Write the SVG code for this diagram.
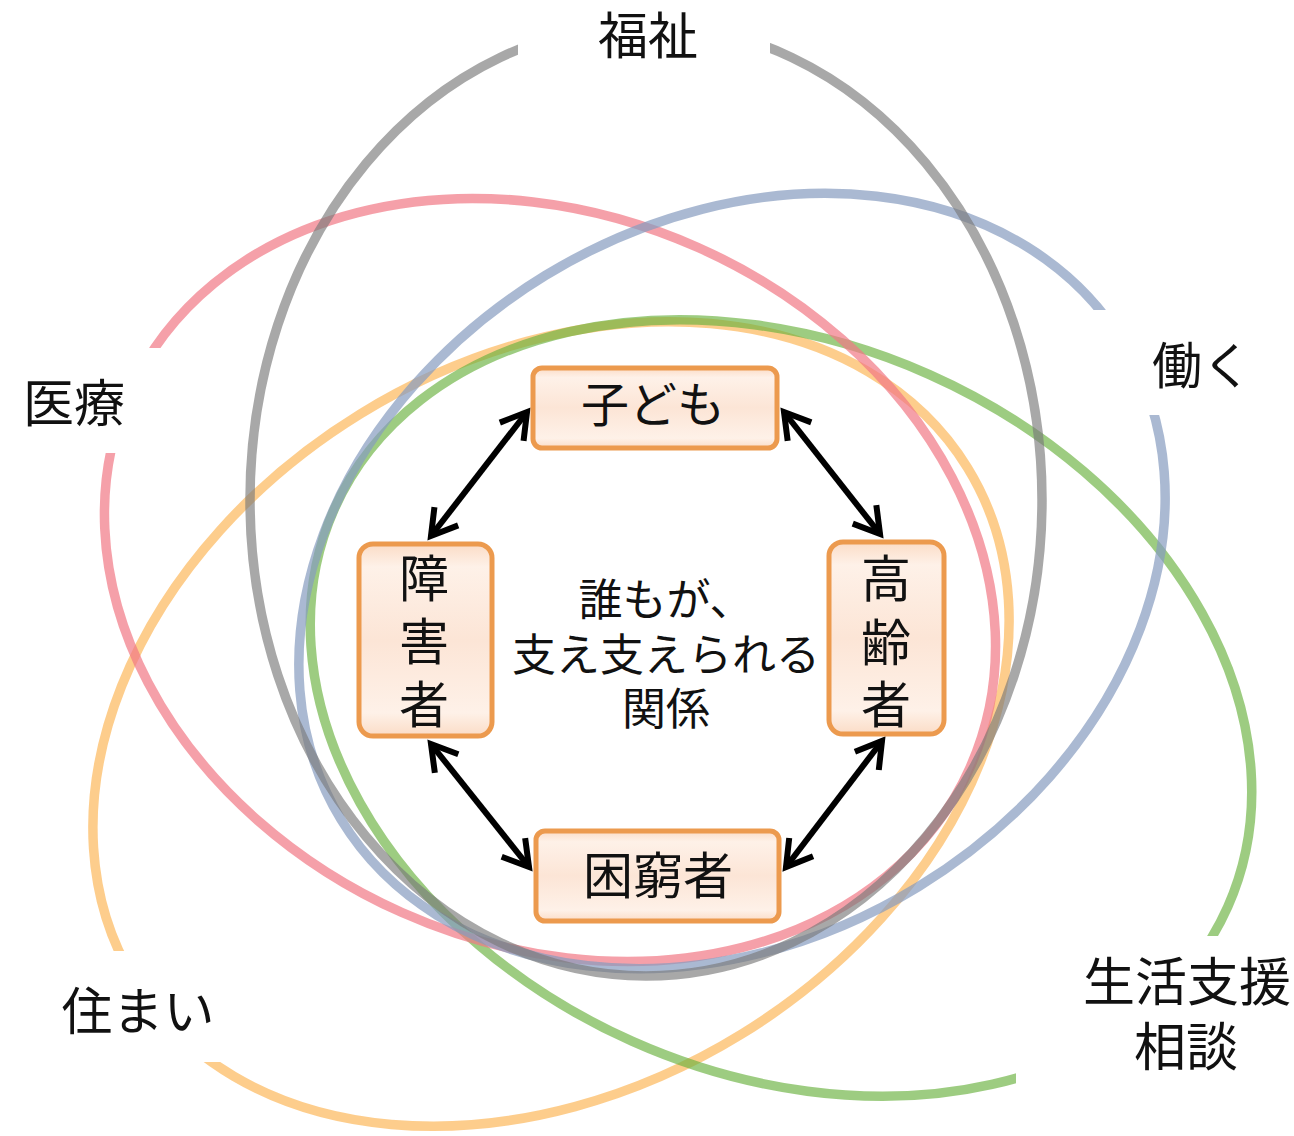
<svg xmlns="http://www.w3.org/2000/svg" width="1294" height="1136" viewBox="0 0 1294 1136">
<style>
.ring{fill:none;stroke-width:9.5}
.box{fill:url(#boxfill);stroke:#ec9a4e;stroke-width:5}
.lbl{font-family:"Liberation Sans","Noto Sans CJK JP",sans-serif;fill:#111;text-anchor:middle;dominant-baseline:central}
.arr{stroke:#000;stroke-width:6;fill:none;marker-start:url(#ah);marker-end:url(#ah)}
</style>
<defs>
<linearGradient id="boxfill" x1="0" y1="0" x2="0" y2="1">
<stop offset="0" stop-color="#fbdcc6"/>
<stop offset="0.12" stop-color="#fef1e8"/>
<stop offset="0.5" stop-color="#fce5d6"/>
<stop offset="0.88" stop-color="#fef1e8"/>
<stop offset="1" stop-color="#fbdcc6"/>
</linearGradient>
<marker id="ah" markerUnits="userSpaceOnUse" markerWidth="40" markerHeight="40" viewBox="0 0 40 40" refX="30" refY="20" orient="auto-start-reverse" overflow="visible">
<path d="M5,5 L30,20 L5,35" fill="none" stroke="#000" stroke-width="6" stroke-linejoin="miter"/>
</marker>
<mask id="gaps" maskUnits="userSpaceOnUse" x="0" y="0" width="1294" height="1136">
<rect x="0" y="0" width="1294" height="1136" fill="#fff"/>
<rect x="518" y="0" width="252" height="72" fill="#000"/>
<rect x="0" y="348" width="185" height="105" fill="#000"/>
<rect x="1085" y="310" width="209" height="105" fill="#000"/>
<rect x="0" y="951" width="240" height="111" fill="#000"/>
<rect x="1016" y="936" width="278" height="200" fill="#000"/>
</mask>
</defs>
<rect x="0" y="0" width="1294" height="1136" fill="#fff"/>
<g id="rings" mask="url(#gaps)">
<ellipse id="ring-jukyo" class="ring" cx="551" cy="724" rx="489" ry="364" transform="rotate(-31.6 551 724)" stroke="#fcb85b" stroke-opacity="0.7"/>
<ellipse id="ring-seikatsu" class="ring" cx="781" cy="708" rx="489" ry="365" transform="rotate(24 781 708)" stroke="#69b03e" stroke-opacity="0.65"/>
<ellipse id="ring-iryo" class="ring" cx="550" cy="580" rx="460" ry="364" transform="rotate(24 550 580)" stroke="#f17785" stroke-opacity="0.7"/>
<ellipse id="ring-hataraku" class="ring" cx="732" cy="581" rx="458" ry="358" transform="rotate(-31.4 732 581)" stroke="#869bbf" stroke-opacity="0.7"/>
<ellipse id="ring-fukushi" class="ring" cx="646" cy="500" rx="396" ry="476" stroke="#7a7a7a" stroke-opacity="0.65"/>
</g>
<g id="ring-labels">
<text class="lbl" x="648" y="37" font-size="50">福祉</text>
<text class="lbl" x="74" y="404" font-size="51">医療</text>
<text class="lbl" x="1202" y="367" font-size="50">働く</text>
<text class="lbl" x="138" y="1012" font-size="51">住まい</text>
<text class="lbl" font-size="52"><tspan x="1187" y="983">生活支援</tspan><tspan x="1186" y="1048">相談</tspan></text>
</g>
<g id="connectors">
<line class="arr" x1="527" y1="412" x2="431" y2="536"/>
<line class="arr" x1="784" y1="412" x2="880" y2="534"/>
<line class="arr" x1="431" y1="744" x2="529" y2="867"/>
<line class="arr" x1="882" y1="741" x2="786" y2="867"/>
</g>
<g id="node-kodomo">
<rect class="box" x="533" y="368" width="244" height="80" rx="9"/>
<text class="lbl" x="653" y="405" font-size="48">子ども</text>
</g>
<g id="node-shogaisha">
<rect class="box" x="359" y="544" width="133" height="192" rx="14"/>
<text class="lbl" font-size="50"><tspan x="424" y="580">障</tspan><tspan x="424" y="643">害</tspan><tspan x="424" y="706">者</tspan></text>
</g>
<g id="node-koreisha">
<rect class="box" x="829" y="542" width="115" height="192" rx="14"/>
<text class="lbl" font-size="50"><tspan x="886" y="580">高</tspan><tspan x="886" y="644">齢</tspan><tspan x="886" y="706">者</tspan></text>
</g>
<g id="node-konkyusha">
<rect class="box" x="536" y="831" width="243" height="90" rx="9"/>
<text class="lbl" x="658" y="877" font-size="50">困窮者</text>
</g>
<g id="center-text">
<text class="lbl" font-size="44"><tspan x="666" y="600">誰もが、</tspan><tspan x="666" y="655">支え支えられる</tspan><tspan x="666" y="709">関係</tspan></text>
</g>
</svg>
